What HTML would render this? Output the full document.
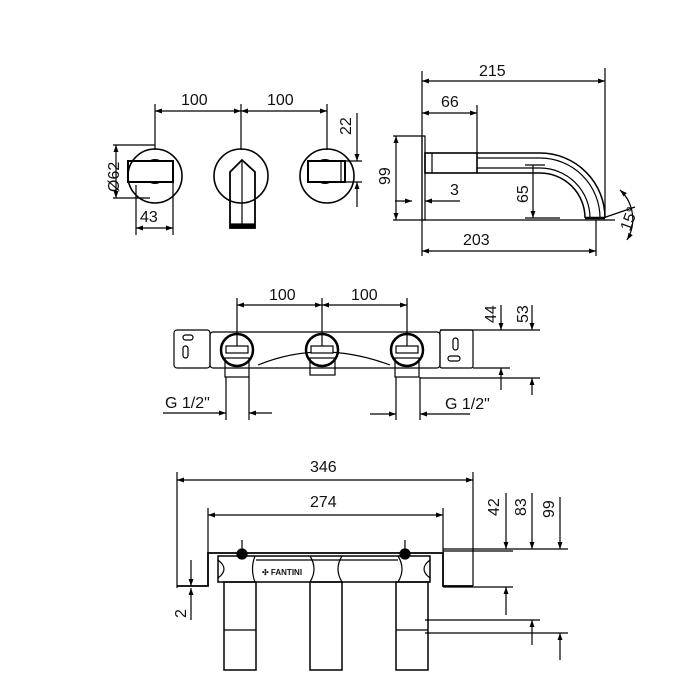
<!DOCTYPE html>
<html><head><style>body{margin:0;background:#fff}svg{display:block}text{font-family:"Liberation Sans",sans-serif;font-size:16px;fill:#111}</style></head>
<body>
<svg width="700" height="700" viewBox="0 0 700 700" xmlns="http://www.w3.org/2000/svg">
<defs>
<marker id="a" viewBox="0 0 10 10" refX="10" refY="5" markerWidth="9" markerHeight="7" orient="auto-start-reverse" markerUnits="userSpaceOnUse"><path d="M0 1.5L10 5L0 8.5z" fill="#000"/></marker>
</defs>
<g stroke="#000" stroke-width="1.2" fill="none">
<line x1="155" y1="104" x2="155" y2="150"/><line x1="241" y1="104" x2="241" y2="150"/><line x1="327" y1="104" x2="327" y2="150"/>
<line x1="155" y1="111" x2="241" y2="111" marker-start="url(#a)" marker-end="url(#a)"/>
<line x1="241" y1="111" x2="327" y2="111" marker-start="url(#a)" marker-end="url(#a)"/>
<circle cx="155" cy="176" r="27" stroke-width="1.6"/><circle cx="241" cy="176" r="27" stroke-width="1.6"/><circle cx="327" cy="176" r="27" stroke-width="1.6"/>
<rect x="128" y="161" width="45" height="21" stroke-width="2"/>
<path d="M150 161a6 3 0 0 1 10 0M150 182a6 3 0 0 0 10 0"/>
<rect x="308" y="161" width="37" height="21" stroke-width="2"/><line x1="341" y1="161" x2="341" y2="182"/>
<path d="M320 161a6 3 0 0 1 10 0M320 182a6 3 0 0 0 10 0"/>
<path d="M230 172L242 160L255 172L255 228L230 228Z" stroke-width="1.8"/><line x1="242" y1="160" x2="242" y2="228"/>
<rect x="230" y="224" width="25" height="4" fill="#000"/>
<line x1="113" y1="145" x2="155" y2="145"/><line x1="113" y1="198" x2="150" y2="198"/>
<line x1="116" y1="145" x2="116" y2="198" marker-start="url(#a)" marker-end="url(#a)"/>
<line x1="136" y1="185" x2="136" y2="235"/><line x1="173" y1="182" x2="173" y2="235"/>
<line x1="136" y1="228" x2="173" y2="228" marker-start="url(#a)" marker-end="url(#a)"/>
<line x1="345" y1="161" x2="362" y2="161"/><line x1="345" y1="182" x2="362" y2="182"/>
<line x1="357" y1="113" x2="357" y2="161" marker-end="url(#a)"/><line x1="357" y1="207" x2="357" y2="182" marker-end="url(#a)"/>
<line x1="422" y1="71" x2="422" y2="256"/>
<rect x="422" y="136" width="3" height="84"/>
<line x1="393" y1="136" x2="422" y2="136"/><line x1="393" y1="220" x2="615" y2="220"/>
<line x1="396" y1="136" x2="396" y2="220" marker-start="url(#a)" marker-end="url(#a)"/>
<rect x="425" y="153" width="52" height="20" stroke-width="1.6"/><line x1="432" y1="153" x2="432" y2="173"/>
<path d="M477 153H540A65 65 0 0 1 605 218" stroke-width="1.5"/>
<path d="M477 158H540A60 60 0 0 1 600 218"/>
<path d="M477 168H540A50 50 0 0 1 590 218"/>
<path d="M477 173H540A45 45 0 0 1 585 218" stroke-width="1.5"/>
<path d="M585 218L605 218" stroke-width="2.5"/>
<line x1="605" y1="68" x2="605" y2="216"/><line x1="422" y1="81" x2="605" y2="81" marker-start="url(#a)" marker-end="url(#a)"/>
<line x1="477" y1="105" x2="477" y2="153"/><line x1="422" y1="113" x2="477" y2="113" marker-start="url(#a)" marker-end="url(#a)"/>
<line x1="395" y1="201" x2="412" y2="201" marker-end="url(#a)"/><line x1="460" y1="201" x2="425" y2="201" marker-end="url(#a)"/>
<line x1="533" y1="165" x2="533" y2="218" marker-end="url(#a)"/><line x1="525" y1="165" x2="545" y2="165"/><line x1="525" y1="218" x2="560" y2="218"/>
<line x1="596" y1="220" x2="596" y2="256"/><line x1="422" y1="251" x2="596" y2="251" marker-start="url(#a)" marker-end="url(#a)"/>
<line x1="603" y1="218" x2="635" y2="207"/>
<path d="M620 190A40 40 0 0 1 627 240" marker-start="url(#a)" marker-end="url(#a)"/>
<line x1="237" y1="298" x2="237" y2="350"/><line x1="322" y1="298" x2="322" y2="350"/><line x1="407" y1="298" x2="407" y2="350"/>
<line x1="237" y1="305" x2="322" y2="305" marker-start="url(#a)" marker-end="url(#a)"/>
<line x1="322" y1="305" x2="407" y2="305" marker-start="url(#a)" marker-end="url(#a)"/>
<rect x="174" y="330" width="36" height="38" rx="3"/>
<rect x="183" y="335" width="10" height="5" rx="2.5"/><rect x="183" y="346" width="5" height="12" rx="2.5"/>
<rect x="210" y="332" width="230" height="36" rx="3"/>
<rect x="440" y="330" width="33" height="38" rx="2"/>
<rect x="453" y="338" width="5" height="12" rx="2.5"/><rect x="448" y="356" width="12" height="5" rx="2.5"/>
<path d="M258 365Q290 352 322 352Q355 352 390 365"/>
<rect x="225" y="358" width="24" height="19"/><rect x="310" y="358" width="25" height="17"/><rect x="395" y="358" width="24" height="19"/>
<g stroke-width="2.5"><circle cx="237" cy="350" r="16"/><circle cx="322" cy="350" r="16"/><circle cx="407" cy="350" r="16"/></g>
<rect x="226" y="346" width="22" height="7" fill="#fff"/><rect x="311" y="346" width="22" height="7" fill="#fff"/><rect x="396" y="346" width="22" height="7" fill="#fff"/>
<line x1="440" y1="330" x2="540" y2="330"/><line x1="473" y1="368" x2="510" y2="368"/><line x1="420" y1="378" x2="540" y2="378"/>
<line x1="501" y1="305" x2="501" y2="330" marker-end="url(#a)"/><line x1="501" y1="390" x2="501" y2="368" marker-end="url(#a)"/>
<line x1="532" y1="305" x2="532" y2="330" marker-end="url(#a)"/><line x1="532" y1="395" x2="532" y2="378" marker-end="url(#a)"/>
<line x1="226" y1="377" x2="226" y2="420"/><line x1="249" y1="377" x2="249" y2="420"/>
<line x1="163" y1="413" x2="226" y2="413" marker-end="url(#a)"/><line x1="272" y1="413" x2="249" y2="413" marker-end="url(#a)"/>
<line x1="396" y1="377" x2="396" y2="420"/><line x1="420" y1="377" x2="420" y2="420"/>
<line x1="370" y1="414" x2="396" y2="414" marker-end="url(#a)"/><line x1="470" y1="414" x2="420" y2="414" marker-end="url(#a)"/>
<line x1="177" y1="472" x2="177" y2="588"/><line x1="473" y1="472" x2="473" y2="586"/>
<line x1="177" y1="480" x2="473" y2="480" marker-start="url(#a)" marker-end="url(#a)"/>
<line x1="208" y1="508" x2="208" y2="553"/><line x1="443" y1="508" x2="443" y2="553"/>
<line x1="208" y1="515" x2="443" y2="515" marker-start="url(#a)" marker-end="url(#a)"/>
<path d="M177 586H208V553H443V586H473" stroke-width="1.8"/>
<path d="M218 556H430V582H218Z" stroke-width="1.5"/>
<path d="M255 556Q250 569 255 582M310 556Q318 569 310 582M342 556Q334 569 342 582M398 556Q406 569 398 582"/>
<path d="M218 560Q230 569 218 578M430 560Q418 569 430 578"/>
<line x1="256" y1="560" x2="398" y2="560"/>
<rect x="224" y="582" width="32" height="88" stroke-width="1.5"/><rect x="310" y="582" width="32" height="88" stroke-width="1.5"/><rect x="396" y="582" width="32" height="88" stroke-width="1.5"/>
<line x1="224" y1="630" x2="256" y2="630"/><line x1="396" y1="630" x2="428" y2="630"/>
<circle cx="242" cy="554" r="5" fill="#000"/><circle cx="405" cy="554" r="5" fill="#000"/>
<line x1="242" y1="540" x2="242" y2="554"/><line x1="405" y1="540" x2="405" y2="554"/>
<line x1="443" y1="549" x2="568" y2="549"/><line x1="443" y1="551" x2="513" y2="551"/>
<line x1="443" y1="587" x2="513" y2="587"/>
<line x1="425" y1="620" x2="540" y2="620"/><line x1="425" y1="633" x2="568" y2="633"/>
<line x1="506" y1="493" x2="506" y2="549" marker-end="url(#a)"/><line x1="506" y1="615" x2="506" y2="587" marker-end="url(#a)"/>
<line x1="532" y1="493" x2="532" y2="549" marker-end="url(#a)"/><line x1="532" y1="645" x2="532" y2="620" marker-end="url(#a)"/>
<line x1="560" y1="497" x2="560" y2="549" marker-end="url(#a)"/><line x1="560" y1="660" x2="560" y2="633" marker-end="url(#a)"/>
<line x1="191" y1="560" x2="191" y2="586" marker-end="url(#a)"/><line x1="191" y1="620" x2="191" y2="588" marker-end="url(#a)"/>
</g>
<text x="181" y="105">100</text><text x="267" y="105">100</text>
<text x="140" y="222">43</text>
<text transform="translate(119,192) rotate(-90)">Ø62</text>
<text transform="translate(351,135) rotate(-90)">22</text>
<text transform="translate(390,185) rotate(-90)">99</text>
<text x="479" y="76">215</text><text x="441" y="107">66</text>
<text x="450" y="195">3</text>
<text transform="translate(528,203) rotate(-90)">65</text>
<text x="463" y="245">203</text>
<text transform="translate(630,232) rotate(-70)">15°</text>
<text x="269" y="300">100</text><text x="351" y="300">100</text>
<text transform="translate(496,323) rotate(-90)">44</text>
<text transform="translate(528,323) rotate(-90)">53</text>
<text x="165" y="408">G 1/2"</text><text x="445" y="409">G 1/2"</text>
<text x="310" y="472">346</text><text x="310" y="507">274</text>
<text transform="translate(499,516) rotate(-90)">42</text>
<text transform="translate(526,516) rotate(-90)">83</text>
<text transform="translate(554,518) rotate(-90)">99</text>
<text transform="translate(186,618) rotate(-90)">2</text>
<text x="262" y="575" style="font-size:8px;font-weight:bold">✣ FANTINI</text>
</svg>
</body></html>
